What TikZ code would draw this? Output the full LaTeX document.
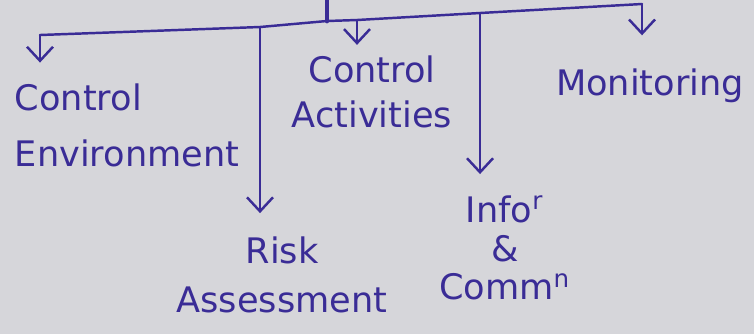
\documentclass[tikz,border=0pt]{standalone}
\usepackage{fontspec}
\setmainfont{DejaVu Sans}
\usetikzlibrary{arrows.meta}
\definecolor{ink}{RGB}{58,44,150}
\definecolor{paper}{RGB}{214,214,218}

\begin{document}
\begin{tikzpicture}[
	inkline/.style={ink,line width=0.7pt,line cap=round,line join=round},
	inkarrow/.style={inkline,-{Straight Barb[length=1.4mm,width=2.6mm,line width=0.7pt]}},
	comp/.style={ink,inner sep=0pt,font=\fontsize{10}{#1}\selectfont}
]
	% draw paper
	\fill[paper] (0,0) rectangle (7.54,-3.34);
	\useasboundingbox (0,0) rectangle (7.54,-3.34);
	% points on the bar
	\coordinate (top) at (3.27,0);
	\coordinate (barL) at (0.40,-0.35);
	\coordinate (jRisk) at (2.60,-0.27);
	\coordinate (jStem) at (3.27,-0.21);
	\coordinate (jAct) at (3.57,-0.20);
	\coordinate (jInfo) at (4.80,-0.13);
	\coordinate (barR) at (6.42,-0.04);
	% components
	\node[comp=16pt,align=left] (env) at (1.27,-1.25) {Control\\Environment};
	\node[comp=13pt,align=center] (act) at (3.72,-0.92) {Control\\Activities};
	\node[comp=12pt] (mon) at (6.50,-0.86) {Monitoring};
	\node[comp=14pt,align=center] (risk) at (2.82,-2.75) {Risk\\Assessment};
	\node[comp=11pt,align=center] (info) at (5.05,-2.48) {Info\textsuperscript{r}\\\&\\Comm\textsuperscript{n}};
	% draw stem and bar
	\draw[inkline,line width=1.4pt] (top) -- (jStem);
	\draw[inkline] (barL) -- (jRisk) -- (jStem) -- (jAct) -- (jInfo) -- (barR);
	% draw arrows
	\foreach \j/\n/\s in {barL/env/2mm, jAct/act/1mm, jRisk/risk/2.3mm, jInfo/info/2.1mm, barR/mon/3.3mm}
		\draw[inkarrow,shorten >=\s] (\j) -- (\j |- \n.north);
\end{tikzpicture}
\end{document}
